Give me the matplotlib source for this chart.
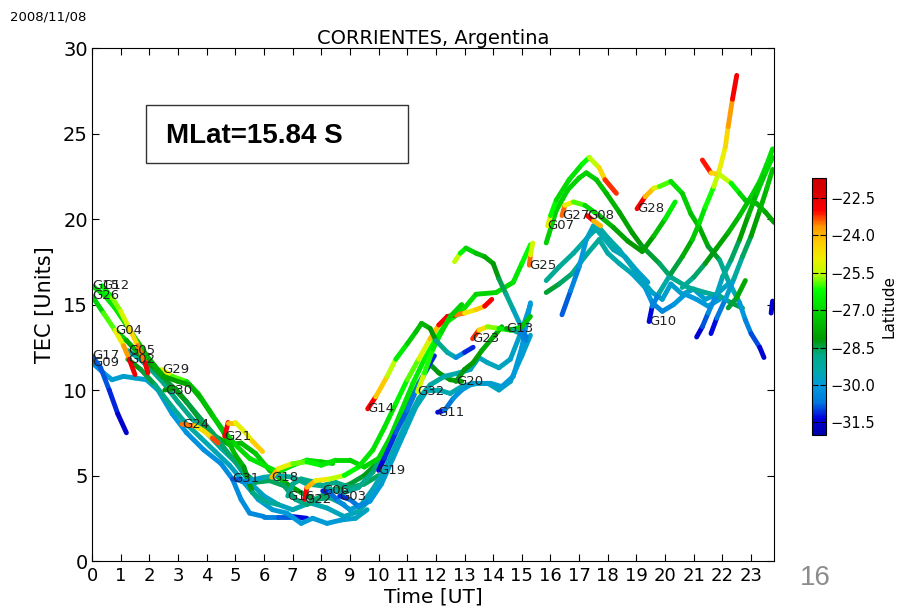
import numpy as np
import matplotlib
matplotlib.use('Agg')
import matplotlib.pyplot as plt
from matplotlib.collections import LineCollection
from matplotlib.colors import ListedColormap
from matplotlib.patches import Rectangle

# each track: (time UT, TEC, latitude)
g15 = [(0.0,16.1,-27.0),(0.4,15.6,-26.8),(0.8,14.8,-26.5),(1.2,13.8,-26.8),(1.6,12.8,-27.2),(2.0,11.8,-27.6),
       (2.5,10.8,-27.9),(3.0,10.5,-28.0),(3.4,10.3,-27.8),(3.8,9.5,-27.5),(4.2,8.5,-27.3),(4.6,7.6,-27.2),
       (5.0,6.8,-27.0),(5.5,6.0,-26.8),(6.0,5.6,-26.6),(6.5,5.2,-26.8),(7.0,5.6,-26.5),(7.5,5.9,-26.6),
       (8.0,5.8,-27.0),(8.4,5.7,-27.2)]
g12 = [(0.35,16.1,-26.5),(0.7,15.4,-26.0),(1.0,14.6,-25.5),(1.3,13.6,-25.0),(1.6,12.6,-24.0),(1.85,11.6,-23.0),
       (1.95,11.0,-22.3)]
g26 = [(0.0,15.5,-27.5),(0.4,14.5,-26.5),(0.8,13.5,-25.5),(1.1,12.6,-24.5),(1.3,11.8,-23.0),(1.5,10.9,-22.3)]
g04 = [(0.8,13.5,-27.0),(1.2,12.9,-27.5),(1.7,12.0,-28.0),(2.2,11.2,-28.3),(2.8,10.2,-28.4),(3.3,9.3,-28.2),
       (3.8,8.2,-28.0),(4.3,7.3,-27.8),(4.8,6.8,-27.7),(5.2,6.9,-27.5),(5.7,6.3,-27.3),(6.2,5.3,-27.2),
       (6.8,4.5,-27.6),(7.3,4.0,-28.2),(7.8,3.6,-28.6),(8.3,3.7,-28.8),(8.8,3.3,-29.0)]
g05 = [(1.25,12.3,-29.5),(1.6,11.9,-29.3),(2.0,11.3,-29.0),(2.5,10.4,-28.8),(3.0,9.3,-28.7),(3.5,8.3,-28.8),
       (4.0,7.5,-29.0),(4.5,6.6,-29.2),(5.0,5.8,-29.5),(5.5,4.6,-29.6),(6.0,3.8,-29.7),(6.5,3.3,-29.8),
       (7.0,3.0,-29.6),(7.6,3.4,-29.3),(8.2,3.1,-29.5),(8.8,2.6,-29.7),(9.3,2.9,-29.5),(9.8,3.8,-29.3)]
g02 = [(1.25,11.8,-28.0),(1.7,11.2,-28.3),(2.2,10.3,-28.6),(2.8,9.0,-29.0),(3.3,8.0,-29.2),(3.8,7.2,-29.4),
       (4.3,6.4,-29.5),(4.8,5.6,-29.6),(5.3,4.6,-29.7),(5.8,3.6,-29.8),(6.3,3.0,-29.9),(6.8,2.8,-30.0),
       (7.3,2.2,-30.0),(7.7,2.5,-29.9),(8.2,2.2,-30.0),(8.7,2.4,-29.9),(9.2,2.5,-29.8),(9.6,3.0,-29.6)]
g17 = [(0.0,12.0,-30.8),(0.3,11.3,-30.8),(0.6,10.0,-31.0),(0.9,8.6,-31.3),(1.2,7.5,-31.8)]
g09 = [(0.0,11.6,-30.2),(0.4,11.0,-30.1),(0.7,10.6,-29.9),(1.1,10.8,-29.8),(1.5,10.7,-29.8),(1.9,10.6,-29.8),
       (2.3,10.0,-29.9),(2.8,8.6,-30.0),(3.3,7.5,-30.1),(3.9,6.5,-30.2),(4.5,5.7,-30.2),(4.9,4.8,-30.3),
       (5.2,3.6,-30.3),(5.5,2.8,-30.3),(6.0,2.6,-30.4),(6.5,2.6,-30.6),(7.0,2.6,-31.0),(7.5,2.5,-31.6)]
g29 = [(2.44,11.2,-24.5),(2.8,10.8,-25.5),(3.3,10.5,-26.5),(3.7,9.8,-27.0),(4.1,8.8,-27.2),(4.6,7.5,-27.3),
       (5.0,6.2,-27.5),(5.3,5.5,-27.8),(5.6,4.0,-28.5),(6.0,3.5,-29.0),(6.5,3.3,-29.2)]
g30 = [(2.54,10.0,-28.0),(2.9,10.1,-28.2),(3.3,9.3,-28.3),(3.8,8.3,-28.5),(4.3,7.3,-28.6),(4.8,6.2,-28.7),
       (5.3,5.2,-28.7),(5.7,4.6,-28.6),(6.2,4.7,-28.5),(6.7,4.4,-28.6),(7.1,3.6,-28.7),(7.5,3.3,-28.8),
       (8.0,3.8,-28.6),(8.5,4.2,-28.5),(9.0,4.5,-28.4),(9.5,5.0,-28.3),(10.0,5.8,-28.2)]
g24 = [(3.14,8.0,-22.5),(3.6,7.9,-24.5),(3.9,7.6,-25.0),(4.2,7.2,-24.0),(4.4,6.9,-22.6)]
g21 = [(4.63,7.3,-22.3),(4.75,8.1,-23.5),(5.0,8.1,-24.8),(5.3,7.6,-25.3),(5.6,7.0,-24.8),(5.95,6.4,-23.8)]
g31 = [(4.9,4.8,-31.2),(5.2,4.7,-30.5),(5.5,4.7,-30.0),(6.0,4.9,-29.6),(6.5,5.0,-29.2),(7.0,4.9,-29.0),
       (7.5,4.5,-28.9),(8.0,4.4,-28.8),(8.5,4.6,-28.7),(9.0,4.3,-28.8),(9.5,4.5,-28.6),(10.0,5.0,-28.5)]
g18 = [(6.27,4.9,-23.5),(6.5,5.4,-24.5),(7.0,5.7,-25.5),(7.5,5.8,-26.2),(8.0,5.6,-26.5),(8.5,5.9,-26.8),
       (9.0,5.9,-27.0),(9.5,5.5,-27.0),(10.0,6.0,-27.0),(10.4,7.2,-26.9),(10.8,8.8,-26.8),(11.2,10.4,-26.6),
       (11.6,11.8,-26.4),(12.0,13.0,-26.2),(12.4,14.0,-26.3),(12.9,14.6,-26.6),(13.4,15.6,-27.0),
       (14.1,15.7,-27.0),(14.7,16.3,-26.8),(15.0,17.4,-26.5),(15.3,18.5,-26.0)]
g16 = [(6.83,3.8,-29.0),(7.0,4.5,-28.9),(7.3,4.8,-28.8),(7.8,4.6,-28.9),(8.3,4.2,-29.0),(8.8,4.0,-29.1),
       (9.3,4.3,-29.0),(9.8,5.2,-28.8),(10.2,6.5,-28.6),(10.6,7.8,-28.5),(11.0,9.0,-28.5),(11.4,10.4,-28.4),
       (11.8,11.5,-28.3),(12.1,11.0,-28.2),(12.5,10.6,-28.1),(12.9,10.5,-28.0)]
g22 = [(7.42,3.6,-22.5),(7.5,4.3,-23.5),(7.8,4.7,-24.5),(8.3,4.8,-25.2),(8.8,5.0,-26.0),(9.3,5.5,-26.5),
       (9.8,6.5,-26.8),(10.2,7.8,-26.8),(10.6,9.2,-26.6),(11.0,10.6,-26.2),(11.4,11.8,-25.6),(11.8,13.0,-24.8),
       (12.1,13.8,-23.5),(12.4,14.3,-22.4),(12.7,14.4,-22.6),(13.0,14.5,-24.5),(13.4,14.7,-25.0),
       (13.7,14.9,-23.5),(13.95,15.3,-22.2)]
g06 = [(8.05,4.1,-31.3),(8.3,4.0,-31.0),(8.6,3.5,-30.5),(9.0,3.0,-30.0),(9.4,3.3,-29.8),(9.8,4.2,-29.6),
       (10.2,5.3,-29.5),(10.6,6.8,-29.5),(11.0,8.2,-29.4),(11.4,9.5,-29.3),(11.8,10.3,-29.2),(12.3,10.8,-29.3),
       (12.8,11.0,-29.5),(13.2,11.2,-29.6),(13.5,11.9,-29.7),(13.8,11.6,-29.6),(14.2,11.3,-29.6),
       (14.6,11.8,-29.7),(15.0,13.5,-29.8),(15.3,15.0,-29.9)]
g03 = [(8.64,3.8,-31.3),(9.0,3.6,-30.8),(9.3,3.2,-30.5),(9.7,3.5,-30.2),(10.1,4.5,-30.0),(10.5,6.0,-29.8),
       (10.9,7.5,-29.7),(11.3,9.0,-29.6),(11.7,10.0,-29.5),(12.1,10.0,-29.5),(12.5,9.8,-29.5),(12.9,10.2,-29.5),
       (13.3,10.4,-29.6),(13.8,10.4,-29.6),(14.2,10.0,-29.6),(14.6,10.5,-29.7),(15.0,12.0,-29.8),(15.3,13.2,-29.9)]
g19 = [(10.0,5.3,-31.5),(10.2,6.0,-31.2),(10.6,7.5,-30.9),(11.0,8.8,-30.7),(11.4,10.3,-30.6),(11.7,11.3,-30.8),
       (11.95,12.0,-31.5)]
g14 = [(9.62,8.9,-22.4),(9.9,9.6,-23.5),(10.3,10.8,-25.0),(10.6,11.8,-26.2),(11.0,12.7,-27.0),(11.3,13.4,-27.3),
       (11.5,13.9,-27.5),(11.8,13.6,-27.8),(12.0,12.9,-28.5),(12.4,12.2,-29.2),(12.7,11.9,-29.8),(13.0,12.2,-30.8),
       (13.3,12.5,-31.5)]
g32 = [(11.36,9.9,-25.0),(11.6,11.0,-25.8),(11.9,12.4,-26.4),(12.2,13.4,-26.8),(12.5,14.3,-27.0),(12.9,15.0,-27.2)]
g11 = [(12.06,8.7,-31.6),(12.3,8.8,-31.0),(12.6,9.5,-30.3),(12.9,10.0,-30.0),(13.2,10.3,-29.9),(13.5,10.4,-29.9),
       (13.9,10.4,-29.9),(14.3,10.2,-29.9),(14.7,10.8,-30.0),(15.0,12.5,-30.0),(15.3,15.1,-30.0)]
g20 = [(12.7,10.5,-28.3),(13.0,11.2,-28.2),(13.3,11.6,-28.0),(13.6,12.3,-27.9),(14.0,13.1,-27.8),(14.3,13.7,-27.7)]
g23 = [(13.28,13.0,-22.4),(13.5,13.5,-24.0),(13.8,13.7,-25.3),(14.2,13.6,-26.2),(14.6,13.5,-26.8),(15.0,13.7,-27.2),
       (15.3,14.3,-27.4)]
g13 = [(14.46,13.6,-27.5),(14.7,13.5,-28.3),(14.95,13.3,-29.5),(15.15,12.9,-31.4)]
g25 = [(15.26,17.3,-22.4),(15.3,17.9,-24.5),(15.38,18.6,-26.0)]
noon_top = [(12.65,17.5,-25.0),(12.85,18.0,-26.0),(13.05,18.3,-26.8),(13.4,18.0,-27.3),(13.7,17.8,-27.6),
            (14.0,17.4,-28.0),(14.2,16.5,-28.3),(14.45,15.6,-28.7),(14.7,14.7,-29.3),(14.95,13.8,-30.0),
            (15.15,13.1,-31.3)]
g07 = [(15.9,19.6,-24.5),(16.0,20.2,-25.8),(16.2,21.1,-26.8),(16.65,22.3,-27.0),(17.1,23.2,-26.5),
       (17.35,23.6,-26.0),(17.7,23.0,-25.0),(17.9,22.3,-24.0),(18.3,21.5,-22.4)]
g27 = [(16.4,20.2,-22.4),(16.5,20.8,-24.5),(16.8,21.0,-25.5),(17.2,20.8,-26.5),(17.7,20.2,-27.3),(18.2,19.5,-27.8),
       (18.7,18.7,-28.0),(19.2,18.1,-28.2),(19.6,19.0,-27.8),(20.0,20.0,-27.0),(20.35,21.0,-26.0)]
g08 = [(17.28,20.2,-22.4),(17.5,19.9,-23.5),(17.75,19.6,-24.5)]
eve_green = [(15.85,18.6,-27.2),(16.2,20.5,-27.0),(16.6,21.7,-27.0),(17.0,22.4,-27.0),(17.25,22.7,-27.0),
             (17.6,22.3,-27.2),(17.95,21.5,-27.5),(18.4,20.4,-27.8),(18.85,19.2,-28.0),(19.2,18.4,-28.2),
             (19.8,17.4,-28.5),(20.2,16.6,-28.8),(20.8,16.0,-29.0),(21.4,15.7,-29.2),(21.9,15.5,-29.0),
             (22.3,15.1,-28.6),(22.7,14.8,-28.3)]
g28 = [(19.02,20.6,-22.4),(19.3,21.3,-23.5),(19.6,21.8,-24.8),(19.8,21.9,-25.5),(20.2,22.2,-26.5),(20.6,21.5,-27.0),
       (20.9,20.3,-27.3),(21.2,19.5,-27.5),(21.5,18.4,-28.0),(21.9,17.6,-28.6),(22.2,16.4,-29.2),(22.6,15.1,-29.8),
       (22.8,14.1,-30.3),(23.0,13.3,-30.7),(23.3,12.5,-31.2),(23.45,11.9,-31.6)]
g10 = [(19.44,14.0,-31.6),(19.55,14.9,-31.0),(19.8,15.7,-29.8),(20.2,16.8,-28.8),(20.6,17.8,-28.0),
       (20.95,18.8,-27.5),(21.2,19.8,-27.0),(21.4,20.7,-26.5),(21.7,21.9,-25.8),(21.9,22.9,-25.2),
       (22.1,24.2,-24.8),(22.2,25.4,-24.2),(22.35,27.0,-23.3),(22.5,28.4,-22.4)]
late_red = [(21.3,23.45,-22.4),(21.6,22.7,-23.8),(21.9,22.6,-25.0),(22.3,22.1,-26.0),(22.6,21.5,-26.8),
            (22.8,21.1,-27.2),(23.2,20.9,-27.5),(23.5,20.4,-27.8),(23.8,19.8,-28.0)]
eve_teal1 = [(15.85,16.4,-29.0),(16.3,17.2,-29.0),(16.8,18.0,-29.2),(17.45,19.2,-29.3),(17.7,19.5,-29.3),
             (18.0,18.9,-29.3),(18.4,18.2,-29.4),(18.85,17.2,-29.5),(19.2,16.4,-29.6),(19.55,15.7,-29.7),
             (19.9,15.3,-29.8),(20.2,16.2,-29.8),(20.6,15.6,-29.9),(21.0,15.9,-29.9),(21.4,15.3,-29.9),
             (21.8,15.6,-29.8),(22.2,16.2,-29.7)]
eve_teal2 = [(15.85,15.7,-28.2),(16.3,16.2,-28.5),(16.75,16.8,-28.8),(17.2,17.8,-29.0),(17.7,18.8,-29.2),
             (18.0,18.0,-29.3),(18.4,17.4,-29.4),(18.85,16.8,-29.6),(19.3,16.0,-29.9),(19.55,15.1,-30.3),
             (19.9,14.6,-30.5),(20.3,15.0,-30.2),(20.7,15.6,-30.0),(21.1,15.3,-30.0),(21.5,14.9,-30.0),
             (21.9,15.3,-29.9)]
eve_blue = [(16.4,14.4,-31.0),(16.7,15.8,-30.6),(17.0,17.2,-30.2),(17.25,18.8,-29.8),(17.5,19.6,-29.5),
            (17.8,19.0,-29.4),(18.2,18.2,-29.5),(18.6,17.8,-29.6),(19.0,17.0,-29.7),(19.4,16.3,-29.9)]
late_a = [(21.1,13.1,-31.6),(21.3,13.7,-31.2),(21.5,14.5,-30.6),(21.8,15.6,-30.0),(22.0,16.6,-29.4),
          (22.3,17.6,-28.8),(22.6,18.8,-28.3),(22.9,20.2,-27.8),(23.2,21.5,-27.4),(23.5,22.7,-27.0),
          (23.75,23.6,-26.8)]
late_b = [(21.6,13.3,-31.6),(21.8,14.2,-31.0),(22.1,15.3,-30.2),(22.4,16.5,-29.5),(22.7,17.8,-28.8),
          (23.0,19.0,-28.3),(23.3,20.5,-27.8),(23.55,21.8,-27.4),(23.75,22.9,-27.2)]
late_c = [(20.6,16.0,-29.2),(21.0,16.6,-28.8),(21.4,17.4,-28.4),(21.8,18.3,-28.0),(22.2,19.2,-27.8),
          (22.6,20.2,-27.5),(23.0,21.3,-27.2),(23.3,22.2,-27.0),(23.55,23.2,-26.8),(23.75,24.1,-26.7)]
late_d = [(22.2,14.8,-28.6),(22.5,15.4,-28.2),(22.8,16.4,-27.5)]
late_e = [(23.7,14.5,-31.5),(23.75,15.2,-31.3)]

tracks = [('G09', g09), ('G17', g17), ('G05', g05), ('G02', g02), ('G04', g04), ('G30', g30), ('G29', g29),
          ('G15', g15), ('G26', g26), ('G12', g12), ('G24', g24), ('G21', g21), ('G31', g31), ('G16', g16),
          ('G06', g06), ('G03', g03), ('G18', g18), ('G22', g22), ('G19', g19), ('G11', g11), ('G20', g20),
          ('G32', g32), ('G14', g14), (None, noon_top), ('G23', g23), ('G13', g13), ('G25', g25),
          (None, eve_teal2), (None, eve_teal1), (None, eve_blue), (None, eve_green), ('G27', g27),
          ('G07', g07), ('G08', g08), ('G28', g28), (None, late_c), (None, late_a), (None, late_b),
          (None, late_d), (None, late_e), ('G10', g10), (None, late_red)]

lat_min, lat_max = -32.0, -21.7
cb_ticks = [-22.5, -24.0, -25.5, -27.0, -28.5, -30.0, -31.5]

fig = plt.figure(figsize=(9.04, 6.10), dpi=100)
ax = fig.add_axes([0.1018, 0.0803, 0.7544, 0.841])
# blue -> teal -> green -> yellow -> red, as in the original colour bar
cmap = ListedColormap(plt.get_cmap('nipy_spectral')(np.linspace(0.15, 0.95, 256)))
norm = plt.Normalize(lat_min, lat_max)

for name, trk in tracks:
    a = np.array(trk)
    segs = np.stack([a[:-1, :2], a[1:, :2]], axis=1)
    lc = LineCollection(segs, cmap=cmap, norm=norm, linewidths=3.5, capstyle='round', joinstyle='round')
    lc.set_array((a[:-1, 2] + a[1:, 2]) / 2)
    ax.add_collection(lc)
    if name:
        ax.text(a[0, 0], a[0, 1], name, fontsize=9.5, ha='left', va='center', color='#222222', zorder=10)

ax.set_xlim(0, 23.8)
ax.set_ylim(0, 30)
ax.set_xticks(range(24))
ax.set_yticks(range(0, 31, 5))
ax.tick_params(direction='in', top=True, right=True, length=5)
ax.tick_params(axis='x', labelsize=13, pad=4)
ax.tick_params(axis='y', labelsize=14, pad=3)
ax.set_xlabel('Time [UT]', fontsize=14.5, labelpad=2)
ax.set_ylabel('TEC [Units]', fontsize=15, labelpad=6)
ax.set_title('CORRIENTES, Argentina', fontsize=14, pad=3)

cax = fig.add_axes([0.898, 0.287, 0.0155, 0.421])
sm = plt.cm.ScalarMappable(norm=norm, cmap=cmap)
cb = fig.colorbar(sm, cax=cax, ticks=cb_ticks)
cb.ax.tick_params(direction='in', labelsize=10.5, length=4, left=True, right=True)
cb.set_label('Latitude', fontsize=11)

fig.text(0.011, 0.972, '2008/11/08', fontsize=9.5, va='center', ha='left')

box = Rectangle((146 / 904, 1 - 163 / 610), 262 / 904, 58 / 610, transform=fig.transFigure,
                fill=False, edgecolor='#333333', linewidth=1)
fig.patches.append(box)
fig.text(166 / 904, 1 - 136 / 610, 'MLat=15.84 S', fontsize=20, fontweight='bold',
         family='Liberation Sans', va='center', ha='left')
fig.text(800 / 904, 1 - 578 / 610, '16', fontsize=20, color='#8c8c8c', va='center', ha='left',
         family='Liberation Sans')

fig.savefig('out.png', dpi=100)
